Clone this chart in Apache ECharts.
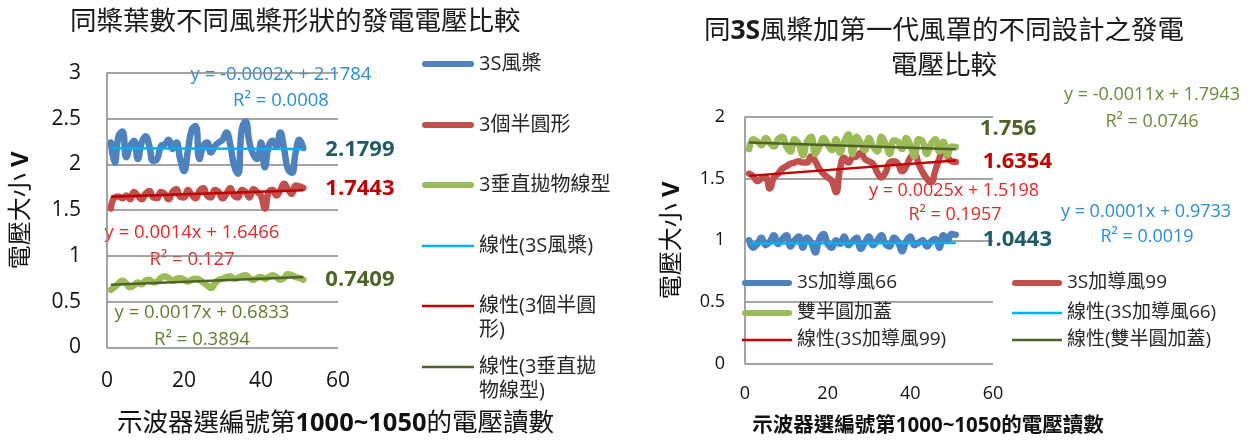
<!DOCTYPE html>
<html>
<head>
<meta charset="utf-8">
<script src="https://cdn.jsdelivr.net/npm/echarts@6/dist/echarts.min.js"></script>
<style>
  html, body { margin: 0; padding: 0; background: #ffffff; }
  #chart { width: 1259px; height: 441px; }
</style>
</head>
<body>
<div id="chart"></div>
<script>
// Oscilloscope voltage readings (samples 1000~1050, plotted as 1..51)

// Left chart: same number of blades, different blade shapes
const leftNames = ['3S風槳', '3個半圓形', '3垂直拋物線型'];
const leftTrendNames = ['線性(3S風槳)', '線性(3個半圓形)', '線性(3垂直拋物線型)'];
const blade3S = [2.24, 2.02, 2.31, 2.36, 2.08, 2.20, 2.26, 2.06, 2.24, 2.31, 2.20, 2.04, 2.06, 2.20, 2.22, 2.27, 2.17,
  2.24, 2.06, 1.93, 2.15, 2.38, 2.42, 2.06, 2.20, 2.24, 2.13, 2.20, 2.24, 2.27, 2.35, 2.22, 1.99, 1.90,
  2.38, 2.47, 2.24, 2.11, 2.06, 2.24, 1.97, 2.20, 2.26, 2.20, 2.35, 2.17, 1.95, 1.91, 2.13, 2.27, 2.1799];
const halfCircle3 = [1.52, 1.64, 1.65, 1.63, 1.66, 1.62, 1.70, 1.66, 1.62, 1.68, 1.71, 1.64, 1.63, 1.70, 1.68, 1.62, 1.70,
  1.73, 1.65, 1.64, 1.72, 1.67, 1.63, 1.71, 1.74, 1.66, 1.64, 1.72, 1.70, 1.63, 1.68, 1.74, 1.66, 1.64,
  1.72, 1.70, 1.64, 1.73, 1.70, 1.66, 1.52, 1.70, 1.72, 1.66, 1.72, 1.79, 1.73, 1.68, 1.77, 1.76, 1.7443];
const parabola3 = [0.63, 0.66, 0.70, 0.73, 0.70, 0.66, 0.68, 0.71, 0.69, 0.73, 0.74, 0.71, 0.72, 0.76, 0.78, 0.76, 0.73,
  0.75, 0.76, 0.74, 0.72, 0.74, 0.75, 0.74, 0.71, 0.68, 0.65, 0.70, 0.74, 0.75, 0.77, 0.78, 0.75, 0.76,
  0.78, 0.79, 0.76, 0.74, 0.76, 0.77, 0.75, 0.77, 0.79, 0.77, 0.74, 0.76, 0.80, 0.79, 0.77, 0.76, 0.7409];
const leftSlopes = [-0.0002, 0.0014, 0.0017];
const leftIntercepts = [2.1784, 1.6466, 0.6833];
const leftR2 = ['0.0008', '0.127', '0.3894'];

// Right chart: 3S blade with first-generation shroud designs
const rightNames = ['3S加導風66', '3S加導風99', '雙半圓加蓋'];
const rightTrendNames = ['線性(3S加導風66)', '線性(3S加導風99)', '線性(雙半圓加蓋)'];
const guide66 = [1.00, 0.94, 0.97, 1.02, 0.96, 0.99, 1.04, 0.97, 1.01, 1.04, 0.95, 1.00, 1.03, 0.94, 1.02, 0.98, 0.90,
  1.01, 1.05, 0.97, 0.94, 1.00, 0.97, 1.03, 0.96, 0.99, 1.02, 0.93, 0.98, 1.03, 0.96, 1.00, 1.04, 0.97,
  0.95, 1.02, 0.99, 0.91, 0.99, 1.03, 0.96, 0.98, 1.00, 0.95, 0.99, 1.01, 0.94, 1.04, 1.00, 1.05, 1.0443];
const guide99 = [1.54, 1.52, 1.48, 1.50, 1.51, 1.42, 1.51, 1.54, 1.58, 1.60, 1.62, 1.63, 1.64, 1.63, 1.63, 1.68, 1.64,
  1.58, 1.54, 1.51, 1.48, 1.39, 1.58, 1.67, 1.63, 1.67, 1.68, 1.71, 1.66, 1.64, 1.62, 1.55, 1.51, 1.55,
  1.63, 1.64, 1.62, 1.56, 1.60, 1.67, 1.70, 1.62, 1.55, 1.50, 1.47, 1.56, 1.66, 1.75, 1.68, 1.64, 1.6354];
const doubleHalfCap = [1.74, 1.82, 1.80, 1.77, 1.83, 1.79, 1.76, 1.82, 1.84, 1.76, 1.72, 1.82, 1.78, 1.69, 1.80, 1.84, 1.70,
  1.76, 1.83, 1.78, 1.73, 1.82, 1.71, 1.80, 1.86, 1.70, 1.84, 1.79, 1.73, 1.83, 1.76, 1.72, 1.84, 1.78,
  1.70, 1.81, 1.80, 1.74, 1.83, 1.77, 1.68, 1.82, 1.80, 1.70, 1.78, 1.82, 1.72, 1.80, 1.69, 1.76, 1.756];
const rightSlopes = [0.0001, 0.0025, -0.0011];
const rightIntercepts = [0.9733, 1.5198, 1.7943];
const rightR2 = ['0.0019', '0.1957', '0.0746'];

const FONT = "'Open Sans','Noto Sans CJK TC',sans-serif";
const SERIES_COLORS = ['#4f81bd', '#c0504d', '#9bbb59'];
const TREND_COLORS = ['#00b0f0', '#c00000', '#4f6228'];
const END_LABEL_COLORS = ['#215a68', '#c00000', '#4f6228'];
const EQ_COLORS = ['#2e8bd6', '#dd2a2a', '#5f7f2e'];
const CAPSULE = 'path://M3,0H49A3,3 0 0 1 49,6H3A3,3 0 0 1 3,0Z';
const THIN = 'path://M0,0H52V2.4H0Z';

// Legend names that wrap onto a second line; the leading blank line keeps
// the legend sample level with the first line of text
const wrapped = {
  '線性(3個半圓形)': '\n線性(3個半圓\n形)',
  '線性(3垂直拋物線型)': '\n線性(3垂直拋\n物線型)'
};

function dataSeries(name, values, k, axis, labelOpt) {
  return {
    type: 'line', name, xAxisIndex: axis, yAxisIndex: axis,
    data: values.map((v, i) => [i + 1, v]),
    smooth: 0.5, symbol: 'none', silent: true, z: 2,
    lineStyle: { color: SERIES_COLORS[k], width: 6.5, cap: 'round', join: 'round' },
    itemStyle: { color: SERIES_COLORS[k] },
    endLabel: Object.assign({
      show: true,
      formatter: p => String(p.value[1]),
      color: END_LABEL_COLORS[k],
      fontFamily: FONT, fontWeight: 'bold', fontSize: 22,
      distance: 22
    }, labelOpt || {})
  };
}

function trendSeries(name, slope, intercept, k, axis, n) {
  return {
    type: 'line', name, xAxisIndex: axis, yAxisIndex: axis,
    data: [[1, slope * 1 + intercept], [n, slope * n + intercept]],
    symbol: 'none', silent: true, z: 3,
    lineStyle: { color: TREND_COLORS[k], width: 2.5 },
    itemStyle: { color: TREND_COLORS[k] }
  };
}

function legendAt(name, icon, left, top, opts) {
  const o = opts || {};
  return {
    data: [{ name, icon }],
    left, top, padding: 0, itemGap: 0,
    itemWidth: o.itemWidth || 52, itemHeight: 6,
    selectedMode: false,
    itemStyle: { borderWidth: 0 },
    formatter: n => wrapped[n] || n,
    textStyle: { fontFamily: FONT, fontSize: o.fontSize || 20, color: '#262626', lineHeight: 24 }
  };
}

function equation(slope, intercept) {
  return 'y = ' + slope + 'x + ' + intercept;
}

function eqText(text, x, y, color, size) {
  return {
    type: 'text', x, y, silent: true,
    style: { text, fill: color, fontFamily: FONT, fontSize: size, align: 'center', verticalAlign: 'middle' }
  };
}

const N = blade3S.length;

const chart = echarts.init(document.getElementById('chart'), null, { renderer: 'canvas' });

chart.setOption({
  animation: false,
  backgroundColor: '#ffffff',
  textStyle: { fontFamily: FONT },
  title: [
    {
      text: '同槳葉數不同風槳形狀的發電電壓比較',
      left: 70, top: 9, padding: 0,
      textStyle: { fontFamily: FONT, fontSize: 26.5, fontWeight: 'normal', color: '#1a1a1a' }
    },
    {
      text: '同{b|3S}風槳加第一代風罩的不同設計之發電\n電壓比較',
      left: 944, top: 14, padding: 0, textAlign: 'center',
      textStyle: {
        fontFamily: FONT, fontSize: 26.5, fontWeight: 'normal', color: '#1a1a1a', lineHeight: 35,
        rich: { b: { fontFamily: FONT, fontSize: 26.5, fontWeight: 'bold', color: '#1a1a1a', lineHeight: 35 } }
      }
    }
  ],
  grid: [
    { left: 107, top: 73, width: 231, height: 277 },
    { left: 745, top: 117, width: 248, height: 250 }
  ],
  xAxis: [
    {
      type: 'value', gridIndex: 0, min: 0, max: 60, interval: 20,
      axisLine: { show: false }, axisTick: { show: false }, splitLine: { show: false },
      axisLabel: { color: '#111', fontSize: 21, fontFamily: FONT, margin: 23 },
      name: '示波器選編號第{b|1000~1050}的電壓讀數',
      nameLocation: 'middle', nameGap: 63,
      nameTextStyle: {
        fontFamily: FONT, fontSize: 25.5, color: '#111', padding: [0, 0, 0, 226],
        rich: { b: { fontFamily: FONT, fontSize: 25.5, fontWeight: 'bold', color: '#111' } }
      }
    },
    {
      type: 'value', gridIndex: 1, min: 0, max: 60, interval: 20,
      axisLine: { show: false }, axisTick: { show: false }, splitLine: { show: false },
      axisLabel: { color: '#111', fontSize: 18, fontFamily: FONT, margin: 21 },
      name: '示波器選編號第1000~1050的電壓讀數',
      nameLocation: 'middle', nameGap: 52,
      nameTextStyle: {
        fontFamily: FONT, fontSize: 20.5, fontWeight: 'bold', color: '#111', padding: [0, 0, 0, 118]
      }
    }
  ],
  yAxis: [
    {
      type: 'value', gridIndex: 0, min: 0, max: 3, interval: 0.5,
      axisLine: { show: true, lineStyle: { color: '#868686', width: 1.5 } },
      axisTick: { show: false },
      splitLine: { show: true, lineStyle: { color: '#868686', width: 1.5 } },
      axisLabel: { color: '#111', fontSize: 21, fontFamily: FONT, margin: 26 },
      name: '電壓大小 {b|V}', nameLocation: 'middle', nameRotate: 90, nameGap: 74,
      nameTextStyle: {
        fontFamily: FONT, fontSize: 24, color: '#111',
        rich: { b: { fontFamily: FONT, fontSize: 24, fontWeight: 'bold', color: '#111' } }
      }
    },
    {
      type: 'value', gridIndex: 1, min: 0, max: 2, interval: 0.5,
      axisLine: { show: true, lineStyle: { color: '#868686', width: 1.5 } },
      axisTick: { show: false },
      splitLine: { show: true, lineStyle: { color: '#868686', width: 1.5 } },
      axisLabel: { color: '#111', fontSize: 18, fontFamily: FONT, margin: 20 },
      name: '電壓大小 {b|V}', nameLocation: 'middle', nameRotate: 90, nameGap: 61,
      nameTextStyle: {
        fontFamily: FONT, fontSize: 24, color: '#111',
        rich: { b: { fontFamily: FONT, fontSize: 24, fontWeight: 'bold', color: '#111' } }
      }
    }
  ],
  legend: [
    legendAt(leftNames[0], CAPSULE, 422, 52),
    legendAt(leftNames[1], CAPSULE, 422, 113),
    legendAt(leftNames[2], CAPSULE, 422, 173),
    legendAt(leftTrendNames[0], THIN, 422, 234),
    legendAt(leftTrendNames[1], THIN, 422, 270),
    legendAt(leftTrendNames[2], THIN, 422, 331),
    legendAt(rightNames[0], CAPSULE, 742, 271, { itemWidth: 50, fontSize: 19 }),
    legendAt(rightNames[2], CAPSULE, 742, 301, { itemWidth: 50, fontSize: 19 }),
    legendAt(rightTrendNames[1], THIN, 742, 328, { itemWidth: 50, fontSize: 19 }),
    legendAt(rightNames[1], CAPSULE, 1012, 271, { itemWidth: 50, fontSize: 19 }),
    legendAt(rightTrendNames[0], THIN, 1012, 301, { itemWidth: 50, fontSize: 19 }),
    legendAt(rightTrendNames[2], THIN, 1012, 328, { itemWidth: 50, fontSize: 19 })
  ],
  series: [
    dataSeries(leftNames[0], blade3S, 0, 0, { offset: [0, 2] }),
    dataSeries(leftNames[1], halfCircle3, 1, 0, { offset: [0, 1] }),
    dataSeries(leftNames[2], parabola3, 2, 0),
    trendSeries(leftTrendNames[0], leftSlopes[0], leftIntercepts[0], 0, 0, N),
    trendSeries(leftTrendNames[1], leftSlopes[1], leftIntercepts[1], 1, 0, N),
    trendSeries(leftTrendNames[2], leftSlopes[2], leftIntercepts[2], 2, 0, N),
    dataSeries(rightNames[0], guide66, 0, 1, { distance: 27, offset: [0, 5] }),
    dataSeries(rightNames[1], guide99, 1, 1, { distance: 27 }),
    dataSeries(rightNames[2], doubleHalfCap, 2, 1, { distance: 24, offset: [0, -18] }),
    trendSeries(rightTrendNames[0], rightSlopes[0], rightIntercepts[0], 0, 1, N),
    trendSeries(rightTrendNames[1], rightSlopes[1], rightIntercepts[1], 1, 1, N),
    trendSeries(rightTrendNames[2], rightSlopes[2], rightIntercepts[2], 2, 1, N)
  ],
  graphic: [
    eqText(equation(leftSlopes[0], leftIntercepts[0]), 281, 75, EQ_COLORS[0], 18.5),
    eqText('R² = ' + leftR2[0], 281, 101, EQ_COLORS[0], 18.5),
    eqText(equation(leftSlopes[1], leftIntercepts[1]), 192, 233, EQ_COLORS[1], 18.5),
    eqText('R² = ' + leftR2[1], 192, 260, EQ_COLORS[1], 18.5),
    eqText(equation(leftSlopes[2], leftIntercepts[2]), 202, 313, EQ_COLORS[2], 18.5),
    eqText('R² = ' + leftR2[2], 202, 340, EQ_COLORS[2], 18.5),
    eqText(equation(rightSlopes[2], rightIntercepts[2]), 1152, 95, '#6b8a3a', 18),
    eqText('R² = ' + rightR2[2], 1152, 122, '#6b8a3a', 18),
    eqText(equation(rightSlopes[1], rightIntercepts[1]), 954, 191, EQ_COLORS[1], 18),
    eqText('R² = ' + rightR2[1], 955, 215, EQ_COLORS[1], 18),
    eqText(equation(rightSlopes[0], rightIntercepts[0]), 1146, 212, EQ_COLORS[0], 18),
    eqText('R² = ' + rightR2[0], 1147, 237, EQ_COLORS[0], 18)
  ]
});
</script>
</body>
</html>
